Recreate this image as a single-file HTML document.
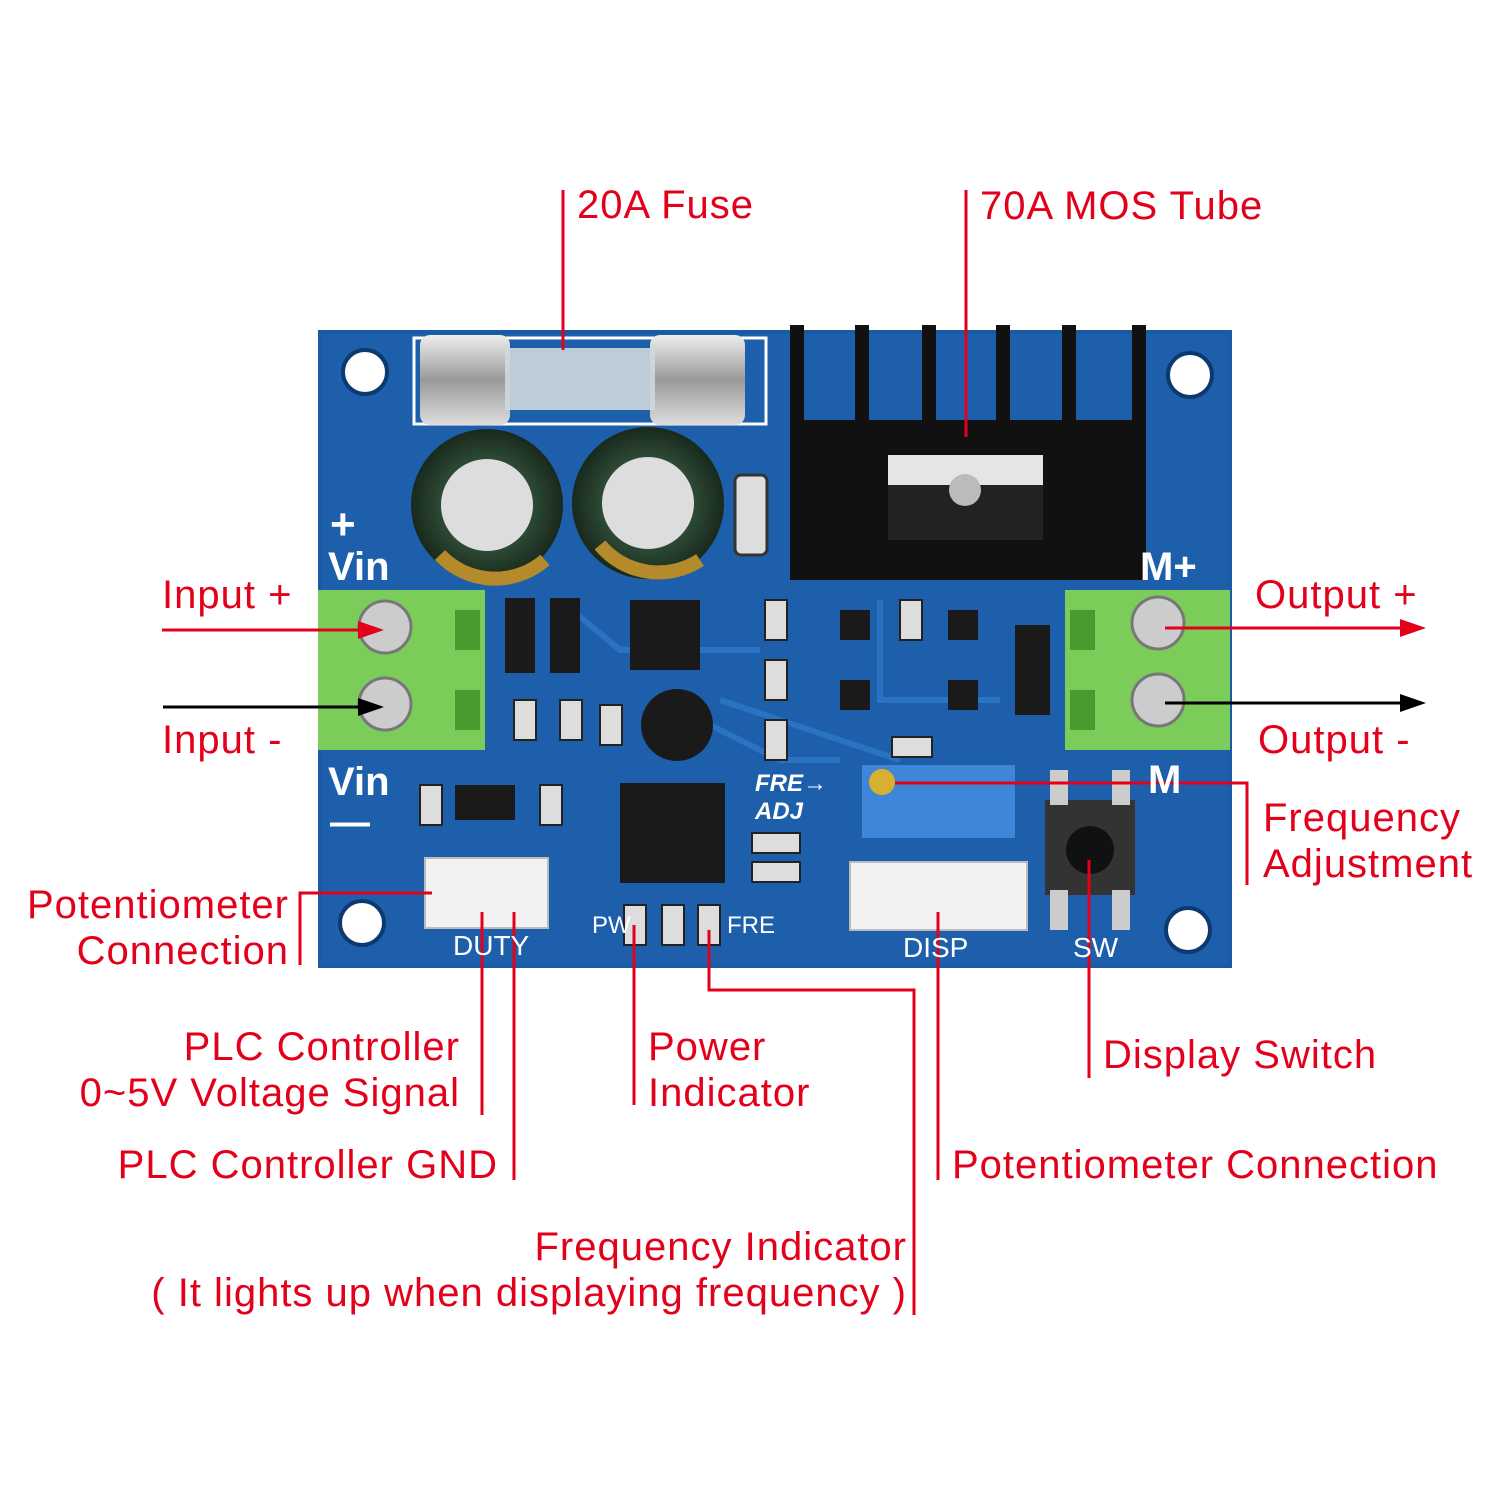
<!DOCTYPE html>
<html><head><meta charset="utf-8"><style>
body{margin:0;background:#fff;}
#c{position:relative;width:1500px;height:1500px;overflow:hidden;font-family:"Liberation Sans",sans-serif;}
.t{position:absolute;color:#e3001b;font-size:40px;line-height:46px;white-space:nowrap;letter-spacing:1px;}
.r{text-align:right;}
.w{position:absolute;color:#fff;font-weight:bold;font-family:"Liberation Sans",sans-serif;}
</style></head><body><div id="c">
<svg width="1500" height="1500" style="position:absolute;left:0;top:0">
<defs>
<radialGradient id="cap" cx="50%" cy="50%" r="50%"><stop offset="60%" stop-color="#2d4a35"/><stop offset="100%" stop-color="#18291c"/></radialGradient>
<linearGradient id="fz" x1="0" y1="0" x2="0" y2="1"><stop offset="0" stop-color="#eee"/><stop offset="0.5" stop-color="#999"/><stop offset="1" stop-color="#ddd"/></linearGradient>
</defs>
<rect x="318" y="330" width="914" height="638" fill="#1a5aa6"/>
<rect x="322" y="334" width="906" height="630" fill="#1d5fab"/>
<g stroke="#2a73c2" stroke-width="6" fill="none">
<path d="M560 600 L620 650 L760 650"/><path d="M700 720 L780 760 L840 760"/><path d="M880 600 L880 700 L1000 700"/><path d="M720 700 L900 760"/>
</g>
<g fill="#fff" stroke="#0c3a70" stroke-width="4">
<circle cx="365" cy="372" r="22"/><circle cx="1190" cy="375" r="22"/><circle cx="362" cy="923" r="22"/><circle cx="1188" cy="930" r="22"/>
</g>
<rect x="414" y="338" width="352" height="86" fill="none" stroke="#fff" stroke-width="3"/>
<rect x="420" y="335" width="90" height="90" rx="10" fill="url(#fz)"/>
<rect x="650" y="335" width="95" height="90" rx="10" fill="url(#fz)"/>
<rect x="505" y="348" width="150" height="62" fill="#cfd8de" opacity="0.9"/>
<circle cx="487" cy="505" r="76" fill="url(#cap)"/><circle cx="487" cy="505" r="46" fill="#ddd"/>
<circle cx="648" cy="503" r="76" fill="url(#cap)"/><circle cx="648" cy="503" r="46" fill="#ddd"/>
<path d="M600 545 A76 76 0 0 0 700 560" stroke="#b58a2a" stroke-width="14" fill="none"/>
<path d="M440 555 A76 76 0 0 0 545 560" stroke="#b58a2a" stroke-width="14" fill="none"/>
<rect x="735" y="475" width="32" height="80" rx="6" fill="#ddd" stroke="#333" stroke-width="3"/>
<g fill="#111">
<rect x="790" y="325" width="14" height="255"/><rect x="855" y="325" width="14" height="130"/><rect x="922" y="325" width="14" height="130"/>
<rect x="996" y="325" width="14" height="130"/><rect x="1062" y="325" width="14" height="130"/><rect x="1132" y="325" width="14" height="255"/>
<rect x="790" y="420" width="356" height="160"/>
</g>
<rect x="888" y="455" width="155" height="30" fill="#e5e5e5"/>
<rect x="888" y="485" width="155" height="55" fill="#222"/>
<circle cx="965" cy="490" r="16" fill="#bbb"/>
<rect x="318" y="590" width="167" height="160" fill="#7ccc5a"/>
<rect x="455" y="610" width="25" height="40" fill="#4a9a30"/><rect x="455" y="690" width="25" height="40" fill="#4a9a30"/>
<circle cx="385" cy="627" r="26" fill="#ccc" stroke="#777" stroke-width="3"/><circle cx="385" cy="704" r="26" fill="#ccc" stroke="#777" stroke-width="3"/>
<rect x="1065" y="590" width="165" height="160" fill="#7ccc5a"/>
<rect x="1070" y="610" width="25" height="40" fill="#4a9a30"/><rect x="1070" y="690" width="25" height="40" fill="#4a9a30"/>
<circle cx="1158" cy="623" r="26" fill="#ccc" stroke="#777" stroke-width="3"/><circle cx="1158" cy="700" r="26" fill="#ccc" stroke="#777" stroke-width="3"/>
<g fill="#1a1a1a">
<rect x="505" y="598" width="30" height="75"/><rect x="550" y="598" width="30" height="75"/>
<rect x="630" y="600" width="70" height="70"/>
<circle cx="677" cy="725" r="36"/>
<rect x="620" y="783" width="105" height="100"/>
<rect x="455" y="785" width="60" height="35"/>
<rect x="1015" y="625" width="35" height="90"/>
<rect x="840" y="610" width="30" height="30"/><rect x="948" y="610" width="30" height="30"/><rect x="840" y="680" width="30" height="30"/><rect x="948" y="680" width="30" height="30"/>
</g>
<g fill="#ddd" stroke="#222" stroke-width="2">
<rect x="765" y="600" width="22" height="40"/><rect x="765" y="660" width="22" height="40"/><rect x="765" y="720" width="22" height="40"/>
<rect x="514" y="700" width="22" height="40"/><rect x="560" y="700" width="22" height="40"/><rect x="600" y="705" width="22" height="40"/>
<rect x="420" y="785" width="22" height="40"/><rect x="540" y="785" width="22" height="40"/><rect x="900" y="600" width="22" height="40"/>
<rect x="752" y="833" width="48" height="20"/><rect x="752" y="862" width="48" height="20"/><rect x="892" y="737" width="40" height="20"/>
<rect x="624" y="905" width="22" height="40"/><rect x="662" y="905" width="22" height="40"/><rect x="698" y="905" width="22" height="40"/>
</g>
<rect x="862" y="765" width="153" height="73" fill="#3f86d8"/>
<circle cx="882" cy="782" r="13" fill="#d8b030"/>
<rect x="425" y="858" width="123" height="70" fill="#f2f2f2" stroke="#bbb" stroke-width="2"/>
<rect x="850" y="862" width="177" height="68" fill="#f2f2f2" stroke="#bbb" stroke-width="2"/>
<rect x="1045" y="800" width="90" height="95" fill="#333"/><circle cx="1090" cy="850" r="24" fill="#111"/>
<rect x="1050" y="890" width="18" height="40" fill="#ccc"/><rect x="1112" y="890" width="18" height="40" fill="#ccc"/>
<rect x="1050" y="770" width="18" height="35" fill="#ccc"/><rect x="1112" y="770" width="18" height="35" fill="#ccc"/>
<g stroke="#e3001b" stroke-width="3" fill="none">
<path d="M563 190V350"/><path d="M966 190V437"/>
<path d="M162 630H362"/><path d="M1165 628H1405"/>
<path d="M895 783H1247V885"/>
<path d="M300 965V893H432"/>
<path d="M482 912V1115"/><path d="M514 912V1180"/>
<path d="M634 925V1105"/>
<path d="M709 930V990H914V1315"/>
<path d="M938 912V1180"/><path d="M1089 860V1078"/>
</g>
<polygon points="384,630 358,621 358,639" fill="#e3001b"/>
<polygon points="1426,628 1400,619 1400,637" fill="#e3001b"/>
<g stroke="#000" stroke-width="3"><path d="M163 707H362"/><path d="M1165 703H1405"/></g>
<polygon points="384,707 358,698 358,716" fill="#000"/>
<polygon points="1426,703 1400,694 1400,712" fill="#000"/>
</svg>
<div class="w" style="left:330px;top:500px;font-size:44px">+</div>
<div class="w" style="left:328px;top:545px;font-size:40px">Vin</div>
<div class="w" style="left:328px;top:760px;font-size:40px">Vin</div>
<div class="w" style="left:330px;top:800px;font-size:40px">—</div>
<div class="w" style="left:1140px;top:545px;font-size:40px">M+</div>
<div class="w" style="left:1148px;top:758px;font-size:40px">M</div>
<div class="w" style="left:755px;top:770px;font-size:24px;font-style:italic">FRE→<br>ADJ</div>
<div class="w" style="left:453px;top:930px;font-size:28px;font-weight:normal">DUTY</div>
<div class="w" style="left:903px;top:932px;font-size:28px;font-weight:normal">DISP</div>
<div class="w" style="left:1073px;top:932px;font-size:28px;font-weight:normal">SW</div>
<div class="w" style="left:592px;top:912px;font-size:24px;font-weight:normal">PW</div>
<div class="w" style="left:727px;top:912px;font-size:24px;font-weight:normal">FRE</div>

<div class="t" style="left:577px;top:182px">20A Fuse</div>
<div class="t" style="left:980px;top:183px">70A MOS Tube</div>
<div class="t" style="left:162px;top:572px">Input +</div>
<div class="t" style="left:162px;top:717px">Input -</div>
<div class="t" style="left:1255px;top:572px">Output +</div>
<div class="t" style="left:1258px;top:717px">Output -</div>
<div class="t" style="left:1263px;top:795px">Frequency<br>Adjustment</div>
<div class="t r" style="right:1211px;top:882px">Potentiometer<br>Connection</div>
<div class="t r" style="right:1040px;top:1024px">PLC Controller<br>0~5V Voltage Signal</div>
<div class="t r" style="right:1002px;top:1142px">PLC Controller GND</div>
<div class="t" style="left:648px;top:1024px">Power<br>Indicator</div>
<div class="t r" style="right:593px;top:1224px">Frequency Indicator<br>( It lights up when displaying frequency )</div>
<div class="t" style="left:952px;top:1142px">Potentiometer Connection</div>
<div class="t" style="left:1103px;top:1032px">Display Switch</div>
</div></body></html>
